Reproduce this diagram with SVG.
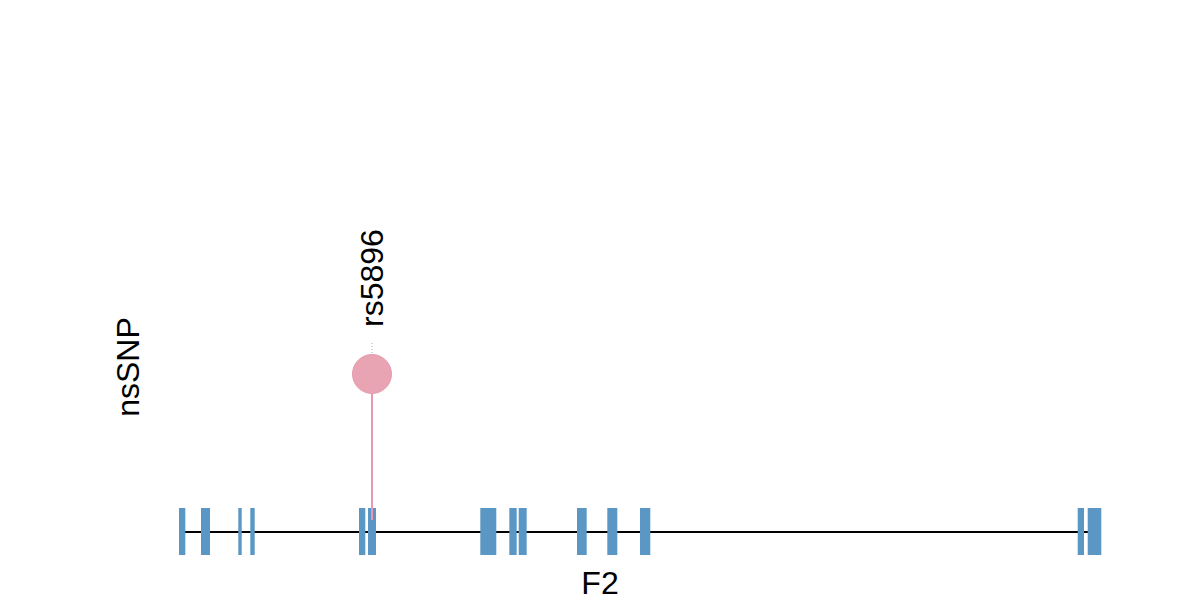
<svg xmlns="http://www.w3.org/2000/svg" width="1200" height="600" viewBox="0 0 1200 600">
<style>
.exon{fill:#5b97c4}
.lbl{font-family:"Liberation Sans",Arial,sans-serif;font-size:32px;fill:#000}
</style>
<rect width="1200" height="600" fill="#fff"/>
<g id="connectors">
<line x1="179" y1="532" x2="1101" y2="532" stroke="#000" stroke-width="2"/>
<line x1="372" y1="394" x2="372" y2="532" stroke="#e89bb0" stroke-width="2"/>
<line x1="372" y1="343" x2="372" y2="354" stroke="#aaa" stroke-width="1" stroke-dasharray="1,2"/>
</g>
<g id="gene">
<rect class="exon" x="179" y="508" width="6.3" height="47"/>
<rect class="exon" x="201" y="508" width="9" height="47"/>
<rect class="exon" x="238.3" y="508" width="3.4" height="47"/>
<rect class="exon" x="250.3" y="508" width="4.4" height="47"/>
<rect class="exon" x="359" y="508" width="6.3" height="47"/>
<rect class="exon" x="368" y="508" width="8" height="47"/>
<rect class="exon" x="480.3" y="508" width="16" height="47"/>
<rect class="exon" x="509.3" y="508" width="7.4" height="47"/>
<rect class="exon" x="518.7" y="508" width="8" height="47"/>
<rect class="exon" x="577" y="508" width="9.7" height="47"/>
<rect class="exon" x="607.3" y="508" width="10" height="47"/>
<rect class="exon" x="640" y="508" width="10.3" height="47"/>
<rect class="exon" x="1077.7" y="508" width="6.3" height="47"/>
<rect class="exon" x="1087.7" y="508" width="13.6" height="47"/>
</g>
<g id="snp-rs5896">
<line x1="372" y1="394" x2="372" y2="520" stroke="#e89bb0" stroke-width="2"/>
<circle cx="372" cy="374" r="19.5" fill="#e8a4b2" stroke="#e89bb0" stroke-width="1"/>
<text class="lbl" transform="translate(383,327) rotate(-90)">rs5896</text>
</g>
<g id="label-nsSNP">
<text class="lbl" text-anchor="middle" transform="translate(139,367) rotate(-90)">nsSNP</text>
</g>
<g id="label-F2">
<text class="lbl" x="600" y="594" text-anchor="middle">F2</text>
</g>
</svg>
